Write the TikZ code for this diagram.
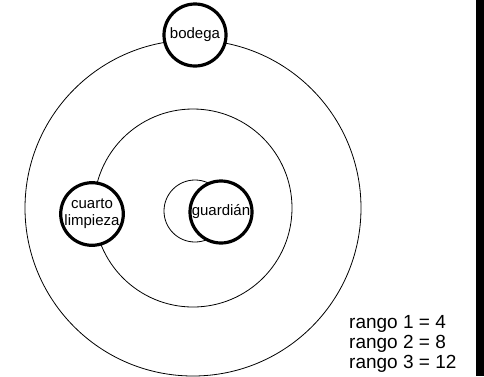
\documentclass[tikz,border=0pt]{standalone}
\usepackage{fontspec}
\setmainfont{Liberation Sans}
\usetikzlibrary{positioning}

\begin{document}
\begin{tikzpicture}[x=1pt, y=-1pt,
  place/.style={circle, draw, fill=white, line width=3.2pt,
                minimum size=62pt, inner sep=0pt, align=center,
                font=\fontsize{15}{17}\selectfont},
  ring/.style={draw, line width=0.8pt},
  legend/.style={align=left, inner sep=0pt,
                 font=\fontsize{19}{20}\selectfont}
]
\useasboundingbox (0,0) rectangle (484,376);
\coordinate (centro) at (193,208);

% rangos
\draw[ring] (centro) circle[radius=168];
\draw[ring] (centro) circle[radius=99];
\draw[ring] (195,211) circle[radius=31];

% lugares
\node[place] (bodega) at (195,35) {bodega};
\node[place] (cuarto) at (92,214) {cuarto\\limpieza};
\node[place] (guardian) at (221,212) {guardián};

\node[legend, anchor=north west] (rangos) at (349,315)
  {rango 1 = 4\\rango 2 = 8\\rango 3 = 12};

\fill (476,0) rectangle (484,376);
\end{tikzpicture}
\end{document}
